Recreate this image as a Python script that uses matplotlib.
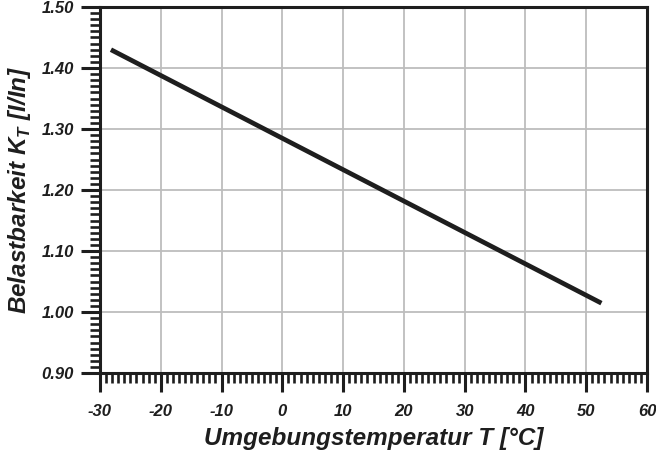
import numpy as np
import matplotlib
matplotlib.use("Agg")
import matplotlib.pyplot as plt
from matplotlib.ticker import MultipleLocator, FormatStrFormatter

plt.rcParams['font.family'] = ['Liberation Sans', 'DejaVu Sans']
plt.rcParams['axes.unicode_minus'] = False

# curve (straight line)
temp = [-28.2, 52.5]
k_t = [1.430, 1.0145]

x_ticks = [-30, -20, -10, 0, 10, 20, 30, 40, 50, 60]
y_ticks = [0.90, 1.00, 1.10, 1.20, 1.30, 1.40, 1.50]

ink = '#1e1e1e'

fig = plt.figure(figsize=(6.56, 4.53), dpi=100)
ax = fig.add_axes([100 / 656, 80 / 453, 547 / 656, 366 / 453])

ax.plot(temp, k_t, color=ink, lw=3.4, solid_capstyle='butt', zorder=3)

ax.set_xlim(-30, 60)
ax.set_ylim(0.90, 1.50)
ax.set_xticks(x_ticks)
ax.set_yticks(y_ticks)
ax.xaxis.set_minor_locator(MultipleLocator(1))
ax.yaxis.set_minor_locator(MultipleLocator(0.01))
ax.yaxis.set_major_formatter(FormatStrFormatter('%.2f'))

ax.grid(True, which='major', color='#bdbdbd', lw=1.3, zorder=0)
for s in ax.spines.values():
    s.set_linewidth(2.2)
    s.set_color(ink)

ax.tick_params(which='major', direction='out', length=14, width=2.2,
               color=ink, labelcolor=ink, pad=5)
ax.tick_params(which='minor', direction='out', length=7, width=1.9,
               color=ink)
ax.tick_params(axis='x', which='major', pad=8)
for lab in ax.get_xticklabels() + ax.get_yticklabels():
    lab.set_fontsize(12)
    lab.set_fontstyle('italic')
    lab.set_fontweight('bold')

ax.set_xlabel('Umgebungstemperatur T [°C]', fontsize=17.5, fontstyle='italic',
              fontweight='bold', color=ink, labelpad=6)
ax.set_ylabel(r'Belastbarkeit K$_\mathregular{T}$ [I/In]', fontsize=17.5,
              fontstyle='italic', fontweight='bold', color=ink, labelpad=6)

fig.savefig('out.png', dpi=100)
